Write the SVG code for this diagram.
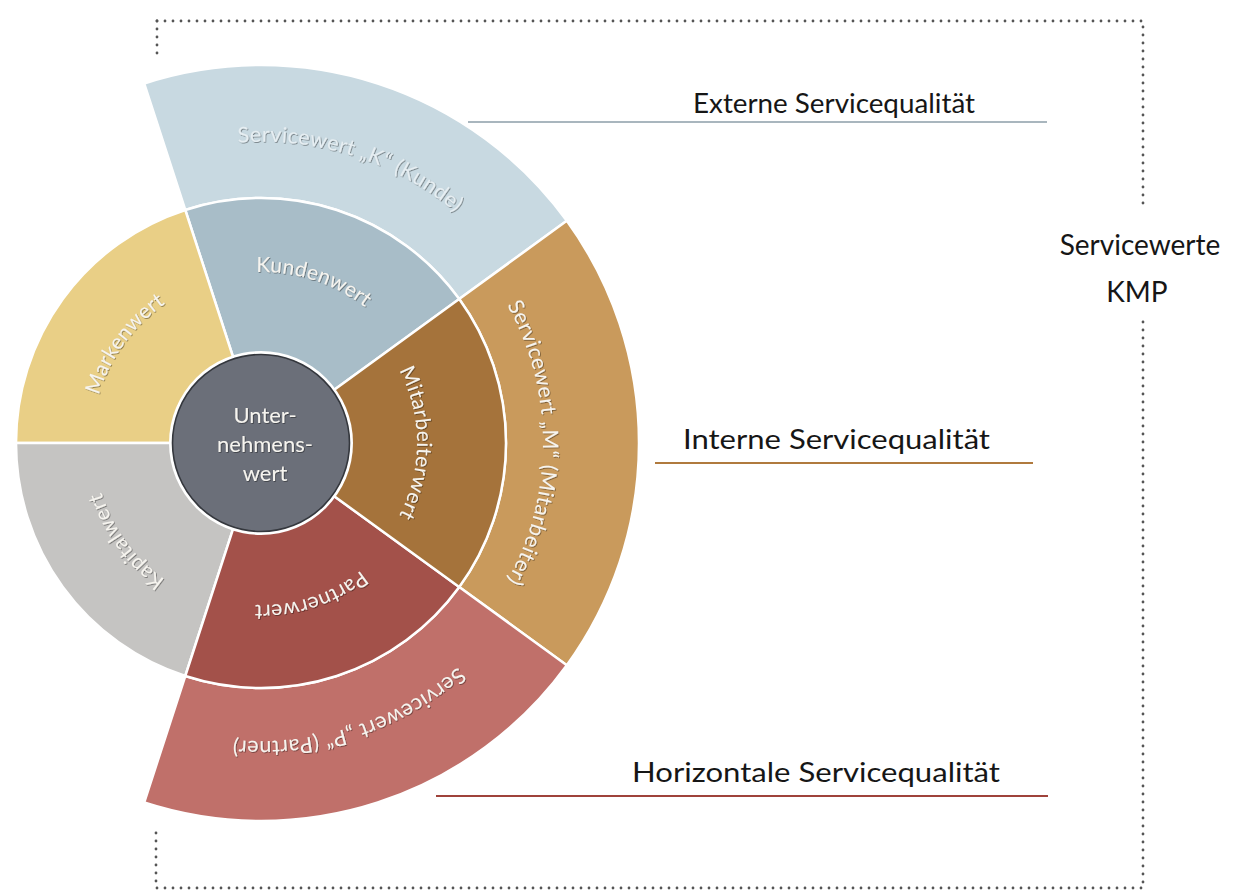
<svg xmlns="http://www.w3.org/2000/svg" width="1241" height="893" viewBox="0 0 1241 893">
<defs>
<style>
.seg{stroke:#ffffff;stroke-width:2.5;stroke-linejoin:round}
.lbl{font-family:Lato,"Open Sans","Liberation Sans",sans-serif;fill:#f6f4ef;text-anchor:middle;filter:url(#emb)}
.in{font-size:21px;letter-spacing:0.3px}
.out{font-size:21.5px;letter-spacing:0.4px}
.side{font-family:Lato,"Open Sans","Liberation Sans",sans-serif;fill:#161616;font-size:27px}
.dot{fill:none;stroke:#555555;stroke-width:2.8;stroke-linecap:round;stroke-dasharray:0 8}
</style>
<filter id="emb" x="-10%" y="-10%" width="120%" height="120%">
<feDropShadow dx="0.8" dy="0.8" stdDeviation="0.6" flood-color="#000" flood-opacity="0.45"/>
</filter>
<path id="tK" d="M167.99,156.73 A301,301 0 0 1 504.51,264.90"/>
<path id="tKu" d="M208.16,280.37 A171,171 0 0 1 399.34,342.49"/>
<path id="tMa" d="M92,443 A169,169 0 0 1 208.78,282.27"/>
<path id="tKa" d="M209.40,601.83 A167,167 0 0 1 94,443"/>
<path id="tPa" d="M392.06,538.22 A162,162 0 0 1 210.94,597.07"/>
<path id="tMi" d="M387.21,351.31 A156,156 0 0 1 387.21,534.69"/>
<path id="tM" d="M489.14,277.25 A282,282 0 0 1 489.14,608.75"/>
<path id="tP" d="M502.09,618.16 A298,298 0 0 1 168.91,726.42"/>
</defs>
<rect width="1241" height="893" fill="#ffffff"/>

<g id="frame">
<path class="dot" d="M157,21 H1143 V210"/>
<path class="dot" d="M1143,322 V888 H156"/>
<path class="dot" d="M157,21 V56"/>
<path class="dot" d="M156,833 V888"/>
</g>

<g id="connectors">
<line x1="468" y1="122" x2="1047" y2="122" stroke="#8d9ea8" stroke-width="1.6"/>
<line x1="655" y1="463" x2="1033" y2="463" stroke="#b07a3e" stroke-width="1.8"/>
<line x1="436" y1="796" x2="1048" y2="796" stroke="#9f433b" stroke-width="1.8"/>
</g>

<g id="servicewert-k">
<path class="seg" fill="#c8d9e1" d="M185.29,209.99 L144.19,83.5 A378,378 0 0 1 566.81,220.82 L459.21,298.99 A245,245 0 0 0 185.29,209.99 Z"/>
<text class="lbl out" style="fill:#e6eef2"><textPath href="#tK" startOffset="50%">Servicewert „K“ (Kunde)</textPath></text>
</g>
<g id="servicewert-m">
<path class="seg" fill="#c99a5c" d="M459.21,298.99 L566.81,220.82 A378,378 0 0 1 566.81,665.18 L459.21,587.01 A245,245 0 0 0 459.21,298.99 Z"/>
<text class="lbl out"><textPath href="#tM" startOffset="50%">Servicewert „M“ (Mitarbeiter)</textPath></text>
</g>
<g id="servicewert-p">
<path class="seg" fill="#c0706a" d="M459.21,587.01 L566.81,665.18 A378,378 0 0 1 144.19,802.5 L185.29,676.01 A245,245 0 0 0 459.21,587.01 Z"/>
<text class="lbl out"><textPath href="#tP" startOffset="50%">Servicewert „P“ (Partner)</textPath></text>
</g>

<g id="kundenwert">
<path class="seg" fill="#a8bdc8" d="M261,443 L185.29,209.99 A245,245 0 0 1 459.21,298.99 Z"/>
<text class="lbl in"><textPath href="#tKu" startOffset="50%">Kundenwert</textPath></text>
</g>
<g id="markenwert">
<path class="seg" fill="#e9cf86" d="M261,443 L16,443 A245,245 0 0 1 185.29,209.99 Z"/>
<text class="lbl in"><textPath href="#tMa" startOffset="50%">Markenwert</textPath></text>
</g>
<g id="kapitalwert">
<path class="seg" fill="#c5c4c2" d="M261,443 L185.29,676.01 A245,245 0 0 1 16,443 Z"/>
<text class="lbl in"><textPath href="#tKa" startOffset="50%">Kapitalwert</textPath></text>
</g>
<g id="partnerwert">
<path class="seg" fill="#a3514a" d="M261,443 L459.21,587.01 A245,245 0 0 1 185.29,676.01 Z"/>
<text class="lbl in"><textPath href="#tPa" startOffset="50%">Partnerwert</textPath></text>
</g>
<g id="mitarbeiterwert">
<path class="seg" fill="#a5733b" d="M261,443 L459.21,298.99 A245,245 0 0 1 459.21,587.01 Z"/>
<text class="lbl in"><textPath href="#tMi" startOffset="50%">Mitarbeiterwert</textPath></text>
</g>

<g id="unternehmenswert">
<circle cx="261" cy="443" r="92" fill="#ffffff"/>
<circle cx="261" cy="443" r="88.5" fill="#6b6f79" stroke="#34373d" stroke-width="1.6"/>
<text class="lbl" style="font-size:22px" x="265" y="423">Unter-</text>
<text class="lbl" style="font-size:22px" x="265" y="452">nehmens-</text>
<text class="lbl" style="font-size:22px" x="265" y="481">wert</text>
</g>

<g id="label-extern">
<text class="side" x="693" y="113" textLength="282" lengthAdjust="spacingAndGlyphs">Externe Servicequalität</text>
</g>
<g id="label-intern">
<text class="side" x="683" y="449" textLength="307" lengthAdjust="spacingAndGlyphs">Interne Servicequalität</text>
</g>
<g id="label-horizontal">
<text class="side" x="632" y="782" textLength="368" lengthAdjust="spacingAndGlyphs">Horizontale Servicequalität</text>
</g>
<g id="label-kmp">
<text class="side" style="font-size:28px" x="1140" y="255" text-anchor="middle">Servicewerte</text>
<text class="side" style="font-size:28px" x="1137" y="302" text-anchor="middle">KMP</text>
</g>
</svg>
